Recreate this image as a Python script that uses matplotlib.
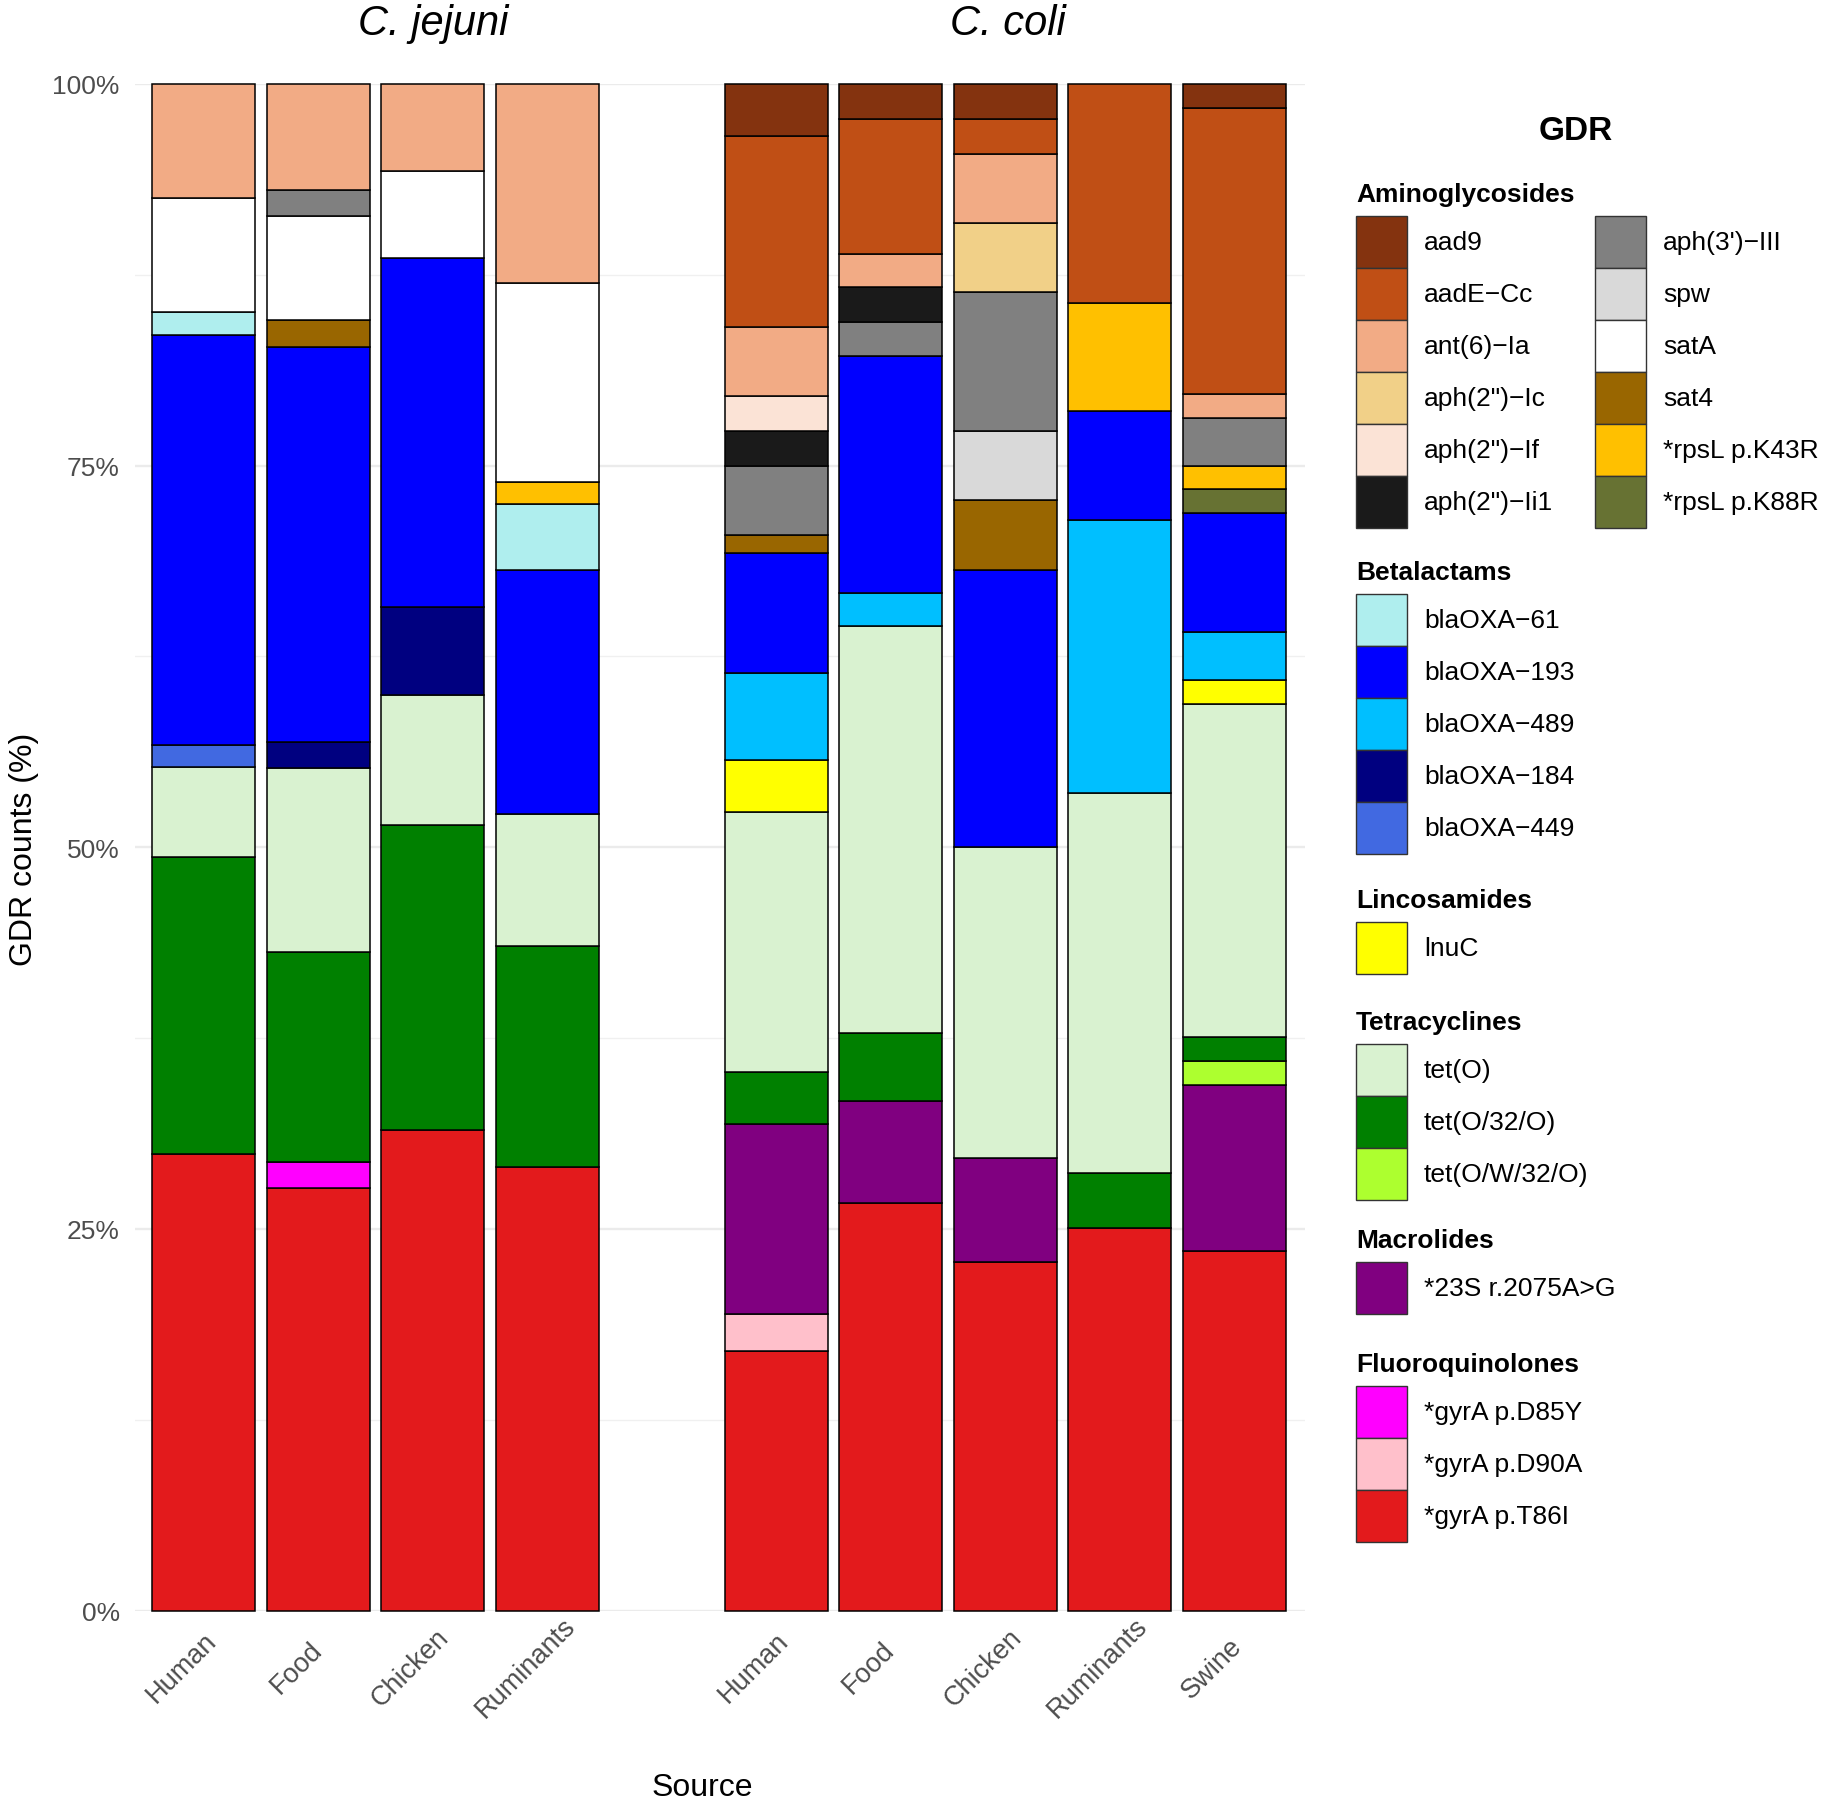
import matplotlib
matplotlib.use('Agg')
import matplotlib.pyplot as plt
from matplotlib.patches import Rectangle
from matplotlib.transforms import ScaledTranslation

plt.rcParams['font.family'] = ['Liberation Sans', 'DejaVu Sans']

# genes in legend order (first = top of each stack)
genes = ['aad9', 'aadE−Cc', 'ant(6)−Ia', 'aph(2")−Ic', 'aph(2")−If', 'aph(2")−Ii1',
         "aph(3')−III", 'spw', 'satA', 'sat4', '*rpsL p.K43R', '*rpsL p.K88R',
         'blaOXA−61', 'blaOXA−193', 'blaOXA−489', 'blaOXA−184', 'blaOXA−449',
         'lnuC',
         'tet(O)', 'tet(O/32/O)', 'tet(O/W/32/O)',
         '*23S r.2075A>G',
         '*gyrA p.D85Y', '*gyrA p.D90A', '*gyrA p.T86I']

colors = ['#84330F', '#C04F15', '#F2AB85', '#F1D088', '#FBE3D6', '#1A1A1A',
          '#808080', '#D9D9D9', '#FFFFFF', '#996600', '#FFC000', '#677233',
          '#AFEEEE', '#0000FF', '#00BFFF', '#000080', '#4169E1',
          '#FFFF00',
          '#D9F2D0', '#008000', '#ADFF2F',
          '#800080',
          '#FF00FF', '#FFC0CB', '#E31A1C']

classes = [('Aminoglycosides', 12), ('Betalactams', 5), ('Lincosamides', 1),
           ('Tetracyclines', 3), ('Macrolides', 1), ('Fluoroquinolones', 3)]

# GDR counts (%) per source
jejuni_sources = ['Human', 'Food', 'Chicken', 'Ruminants']
jejuni_human = {'ant(6)−Ia': 7.50, 'satA': 7.46, 'blaOXA−61': 1.46, 'blaOXA−193': 26.86,
                'blaOXA−449': 1.49, 'tet(O)': 5.90, 'tet(O/32/O)': 19.41, '*gyrA p.T86I': 29.92}
jejuni_food = {'ant(6)−Ia': 6.93, "aph(3')−III": 1.72, 'satA': 6.84, 'sat4': 1.76,
               'blaOXA−193': 25.83, 'blaOXA−184': 1.76, 'tet(O)': 12.01, 'tet(O/32/O)': 13.77,
               '*gyrA p.D85Y': 1.73, '*gyrA p.T86I': 27.65}
jejuni_chicken = {'ant(6)−Ia': 5.73, 'satA': 5.70, 'blaOXA−193': 22.83, 'blaOXA−184': 5.75,
                  'tet(O)': 8.54, 'tet(O/32/O)': 19.97, '*gyrA p.T86I': 31.48}
jejuni_ruminants = {'ant(6)−Ia': 13.07, 'satA': 13.01, '*rpsL p.K43R': 1.46, 'blaOXA−61': 4.33,
                    'blaOXA−193': 15.98, 'tet(O)': 8.62, 'tet(O/32/O)': 14.47, '*gyrA p.T86I': 29.06}

coli_sources = ['Human', 'Food', 'Chicken', 'Ruminants', 'Swine']
coli_human = {'aad9': 3.45, 'aadE−Cc': 12.48, 'ant(6)−Ia': 4.51, 'aph(2")−If': 2.28,
              'aph(2")−Ii1': 2.31, "aph(3')−III": 4.50, 'sat4': 1.17, 'blaOXA−193': 7.92,
              'blaOXA−489': 5.67, 'lnuC': 3.42, 'tet(O)': 16.99, 'tet(O/32/O)': 3.42,
              '*23S r.2075A>G': 12.48, '*gyrA p.D90A': 2.40, '*gyrA p.T86I': 17.00}
coli_food = {'aad9': 2.28, 'aadE−Cc': 8.86, 'ant(6)−Ia': 2.19, 'aph(2")−Ii1': 2.25,
             "aph(3')−III": 2.22, 'blaOXA−193': 15.53, 'blaOXA−489': 2.19, 'tet(O)': 26.62,
             'tet(O/32/O)': 4.48, '*23S r.2075A>G': 6.66, '*gyrA p.T86I': 26.72}
coli_chicken = {'aad9': 2.31, 'aadE−Cc': 2.28, 'ant(6)−Ia': 4.53, 'aph(2")−Ic': 4.53,
                "aph(3')−III": 9.09, 'spw': 4.54, 'sat4': 4.56, 'blaOXA−193': 18.14,
                'tet(O)': 20.38, '*23S r.2075A>G': 6.84, '*gyrA p.T86I': 22.80}
coli_ruminants = {'aadE−Cc': 14.33, '*rpsL p.K43R': 7.10, 'blaOXA−193': 7.13, 'blaOXA−489': 17.88,
                  'tet(O)': 24.91, 'tet(O/32/O)': 3.60, '*gyrA p.T86I': 25.05}
coli_swine = {'aad9': 1.61, 'aadE−Cc': 18.71, 'ant(6)−Ia': 1.58, "aph(3')−III": 3.13,
              '*rpsL p.K43R': 1.54, '*rpsL p.K88R': 1.55, 'blaOXA−193': 7.81, 'blaOXA−489': 3.12,
              'lnuC': 1.58, 'tet(O)': 21.78, 'tet(O/32/O)': 1.60, 'tet(O/W/32/O)': 1.58,
              '*23S r.2075A>G': 10.88, '*gyrA p.T86I': 23.53}

jejuni_bars = [jejuni_human, jejuni_food, jejuni_chicken, jejuni_ruminants]
coli_bars = [coli_human, coli_food, coli_chicken, coli_ruminants, coli_swine]

W, H = 1831, 1808
fig = plt.figure(figsize=(W / 100, H / 100), dpi=100)
ax = fig.add_axes([135 / W, 1 - 1611.6 / H, 1170 / W, (1611.6 - 84.8) / H])

positions = list(range(len(jejuni_sources))) + [5 + i for i in range(len(coli_sources))]
bars = jejuni_bars + coli_bars
labels = jejuni_sources + coli_sources

for x, bar in zip(positions, bars):
    bottom = 0
    for gene, col in zip(reversed(genes), reversed(colors)):
        v = bar.get(gene, 0)
        if v == 0:
            continue
        ax.bar(x, v, bottom=bottom, width=0.9, color=col, edgecolor='black',
               linewidth=1.1, clip_on=False, zorder=3)
        bottom += v

ax.set_xlim(-0.6, 9.62)
ax.set_ylim(0, 100)
ax.set_yticks([0, 25, 50, 75, 100])
ax.set_yticklabels(['0%', '25%', '50%', '75%', '100%'])
ax.set_yticks([12.5, 37.5, 62.5, 87.5], minor=True)
ax.grid(axis='y', which='major', color='#EBEBEB', linewidth=1.7, zorder=0)
ax.grid(axis='y', which='minor', color='#F0F0F0', linewidth=1.0, zorder=0)
ax.set_axisbelow(True)
for s in ax.spines.values():
    s.set_visible(False)
ax.tick_params(axis='both', which='both', length=0)
ax.tick_params(axis='y', labelsize=19, labelcolor='#4D4D4D', pad=11)

# x labels: rotated 45 degrees, centred below-left of each bar
ax.set_xticks(positions)
ax.set_xticklabels(labels, rotation=45, ha='center', va='center', rotation_mode='anchor',
                   fontsize=19.5, color='#4D4D4D')
ax.tick_params(axis='x', pad=0)
shift = ScaledTranslation(-22 / 100, -57 / 100, fig.dpi_scale_trans)
for lab in ax.get_xticklabels():
    lab.set_transform(lab.get_transform() + shift)

# titles and axis titles
fig.text(433 / W, 1 - 24 / H, 'C. jejuni', fontsize=30, style='italic', ha='center', va='center')
fig.text(1008 / W, 1 - 24 / H, 'C. coli', fontsize=30, style='italic', ha='center', va='center')
fig.text(24 / W, 1 - 849 / H, 'GDR counts (%)', fontsize=23, rotation=90, ha='center', va='center')
fig.text(702 / W, 1 - 1788 / H, 'Source', fontsize=23, ha='center', va='center')

# legend drawn in pixel coordinates
lg = fig.add_axes([0, 0, 1, 1])
lg.set_xlim(0, W)
lg.set_ylim(H, 0)
lg.axis('off')
lg.patch.set_alpha(0)

lg.text(1576, 132, 'GDR', fontsize=24, fontweight='bold', ha='center', va='center')
header_y = [195, 573, 901, 1023, 1241, 1365]
key_w, key_h = 51, 52
idx = 0
for (cls, n), hy in zip(classes, header_y):
    lg.text(1356, hy, cls, fontsize=19, fontweight='bold', ha='left', va='center')
    top = hy + 22
    nrow = 6 if n > 6 else n
    for k in range(n):
        col_i, row_i = divmod(k, nrow)
        kx = 1356 + col_i * 239
        ky = top + row_i * key_h
        lg.add_patch(Rectangle((kx, ky), key_w, key_h, facecolor=colors[idx],
                               edgecolor='#333333', linewidth=1.0))
        lg.text(kx + 68, ky + key_h / 2, genes[idx], fontsize=19, ha='left', va='center')
        idx += 1

fig.savefig('out.png', dpi=100)
